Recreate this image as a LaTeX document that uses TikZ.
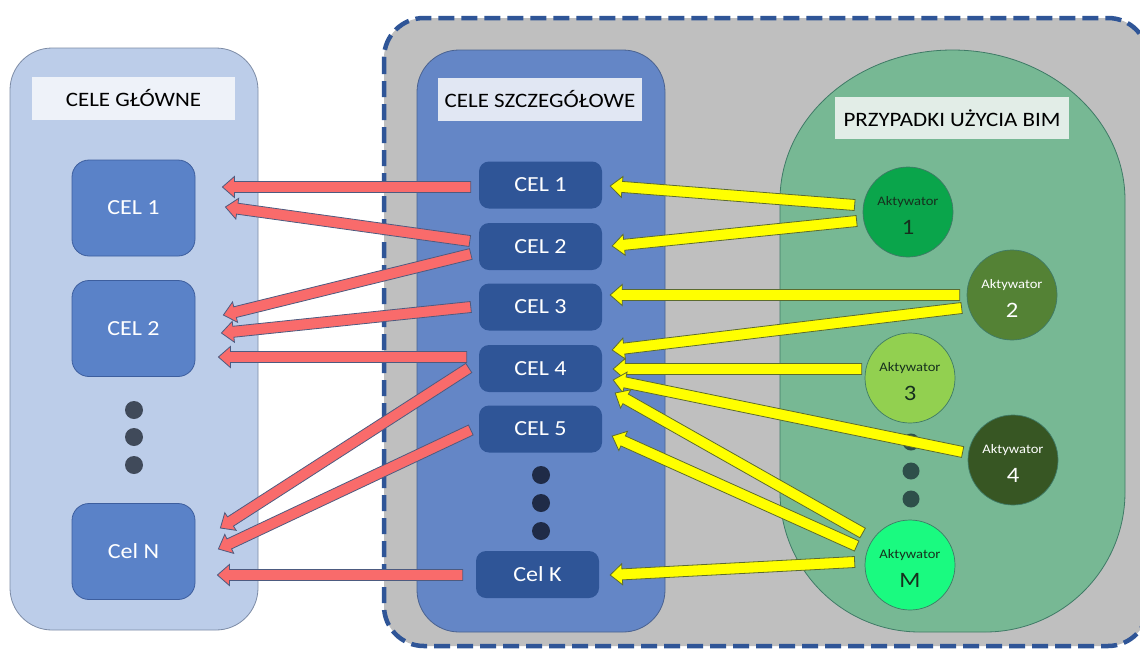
\documentclass[tikz,border=0pt]{standalone}
\usepackage{fontspec}
\setmainfont{Carlito}[FakeStretch=1.12]
\usetikzlibrary{calc}
\definecolor{lpanel}{HTML}{BCCDE9}
\definecolor{lpanelline}{HTML}{7D8CA6}
\definecolor{lbox}{HTML}{5A82C8}
\definecolor{lboxline}{HTML}{3D5E9E}
\definecolor{mpanel}{HTML}{6486C6}
\definecolor{mpanelline}{HTML}{4A6290}
\definecolor{mbox}{HTML}{2F5597}
\definecolor{framegray}{HTML}{BFBFBF}
\definecolor{dashblue}{HTML}{2F5597}
\definecolor{gpanel}{HTML}{77B894}
\definecolor{gpanelline}{HTML}{3F7A66}
\definecolor{redfill}{HTML}{F96B6B}
\definecolor{redline}{HTML}{4D5B80}
\definecolor{yelfill}{HTML}{FFFF00}
\definecolor{yelline}{HTML}{5C6B2E}
\definecolor{aone}{HTML}{0AA54B}
\definecolor{atwo}{HTML}{548235}
\definecolor{athree}{HTML}{92D050}
\definecolor{afour}{HTML}{375623}
\definecolor{am}{HTML}{1AFA80}
\definecolor{darktxt}{HTML}{16301E}
\newcommand{\blockarrow}[3]{%
  \coordinate (BAs) at (#1);
  \coordinate (BAe) at (#2);
  \coordinate (BAh) at ($(BAe)!12pt!(BAs)$);
  \filldraw[#3] ($(BAs)!5.5pt!90:(BAe)$) -- ($(BAh)!5.5pt!90:(BAe)$) -- ($(BAh)!10.5pt!90:(BAe)$) -- (BAe) -- ($(BAh)!10.5pt!-90:(BAe)$) -- ($(BAh)!5.5pt!-90:(BAe)$) -- ($(BAs)!5.5pt!-90:(BAe)$) -- cycle;
}
\begin{document}
\begin{tikzpicture}[x=1pt,y=-1pt,
  panelL/.style={draw=lpanelline,line width=0.8pt,fill=lpanel,rounded corners=42pt,minimum width=248pt,minimum height=582pt,inner sep=0pt},
  panelM/.style={draw=mpanelline,line width=0.8pt,fill=mpanel,rounded corners=42pt,minimum width=248pt,minimum height=582pt,inner sep=0pt},
  titlebox/.style={minimum height=43pt,inner sep=0pt,font=\fontsize{20.5pt}{24pt}\selectfont,text=black},
  lcel/.style={draw=lboxline,line width=0.8pt,fill=lbox,rounded corners=17pt,minimum width=123pt,minimum height=96pt,inner sep=0pt,text=white,font=\fontsize{21.5pt}{25pt}\selectfont},
  mcel/.style={fill=mbox,rounded corners=10pt,minimum width=123pt,minimum height=47pt,inner sep=0pt,text=white,font=\fontsize{21.5pt}{25pt}\selectfont},
  dot/.style={circle,inner sep=0pt,minimum size=18pt},
  act/.style={circle,draw=gpanelline,line width=0.7pt,minimum size=90pt,inner sep=0pt},
  actword/.style={inner sep=0pt,font=\fontsize{13pt}{15pt}\selectfont},
  actnum/.style={inner sep=0pt,font=\fontsize{22pt}{26pt}\selectfont},
  redarrow/.style={fill=redfill,draw=redline,line width=0.8pt,line join=miter},
  yelarrow/.style={fill=yelfill,draw=yelline,line width=0.8pt,line join=miter}
]
\useasboundingbox (0,0) rectangle (1140,649);
\clip (0,0) rectangle (1140,649);
\fill[white] (0,0) rectangle (1140,649);

% big dashed frame
\draw[fill=framegray,draw=dashblue,line width=4.5pt,dash pattern=on 16pt off 7pt,rounded corners=40pt] (384,18) rectangle (1148,646);

% left panel
\node[panelL] (pl) at (134,339) {};
\node[titlebox,fill={rgb,255:red,238;green,242;blue,249},minimum width=203pt] (tl) at (133.5,98.5) {CELE GŁÓWNE};
\node[lcel] (g1) at (133.5,208) {CEL 1};
\node[lcel] (g2) at (133.5,328.5) {CEL 2};
\node[lcel] (gN) at (133.5,551.5) {Cel N};
\foreach \yy [count=\i] in {410,437,465}
  \node[dot,fill={rgb,255:red,64;green,74;blue,90}] (ld\i) at (134,\yy) {};

% middle panel
\node[panelM] (pm) at (541,341) {};
\node[titlebox,fill={rgb,255:red,225;green,231;blue,243},minimum width=204pt] (tm) at (540,99.5) {CELE SZCZEGÓŁOWE};
\node[mcel] (s1) at (540.5,185) {CEL 1};
\node[mcel] (s2) at (540.5,246.5) {CEL 2};
\node[mcel] (s3) at (540.5,307) {CEL 3};
\node[mcel] (s4) at (540.5,368.5) {CEL 4};
\node[mcel] (s5) at (540.5,429) {CEL 5};
\node[mcel] (sK) at (537.5,574.5) {Cel K};
\foreach \yy [count=\i] in {475,503,531}
  \node[dot,fill={rgb,255:red,31;green,43;blue,71}] (md\i) at (541,\yy) {};

% green panel
\draw[fill=gpanel,draw=gpanelline,line width=0.8pt]
  (780,492) -- (780,200)
  .. controls (780,117.2) and (857.2,50) .. (952.5,50)
  .. controls (1047.8,50) and (1125,117.2) .. (1125,200)
  -- (1125,492)
  .. controls (1125,569.3) and (1062.3,632) .. (985,632)
  -- (920,632)
  .. controls (842.7,632) and (780,569.3) .. (780,492) -- cycle;
\node[titlebox,fill={rgb,255:red,226;green,237;blue,231},minimum width=234pt,minimum height=42pt] (tg) at (952,118) {PRZYPADKI UŻYCIA BIM};
\foreach \yy [count=\i] in {442,471,499}
  \node[dot,minimum size=17pt,fill={rgb,255:red,46;green,79;blue,74}] (gd\i) at (911,\yy) {};

% activators
\node[act,fill=aone] (a1) at (908,212) {};
\node[act,fill=atwo] (a2) at (1012,295) {};
\node[act,fill=athree] (a3) at (910,378) {};
\node[act,fill=afour] (a4) at (1013,460) {};
\node[act,fill=am] (aM) at (910,565) {};
\node[actword,text=darktxt] (a1w) at ($(a1)+(0,-10)$) {Aktywator};
\node[actnum,text=darktxt] (a1n) at ($(a1)+(0,15)$) {1};
\node[actword,text=white] (a2w) at ($(a2)+(0,-10)$) {Aktywator};
\node[actnum,text=white] (a2n) at ($(a2)+(0,15)$) {2};
\node[actword,text=darktxt] (a3w) at ($(a3)+(0,-10)$) {Aktywator};
\node[actnum,text=darktxt] (a3n) at ($(a3)+(0,15)$) {3};
\node[actword,text=white] (a4w) at ($(a4)+(0,-10)$) {Aktywator};
\node[actnum,text=white] (a4n) at ($(a4)+(0,15)$) {4};
\node[actword,text=darktxt] (aMw) at ($(aM)+(0,-10)$) {Aktywator};
\node[actnum,text=darktxt] (aMn) at ($(aM)+(0,15)$) {M};

% red arrows
\blockarrow{$(s1.west)+(-8,2)$}{$(g1.east)+(27,-21)$}{redarrow}
\blockarrow{$(s2.west)+(-9,-5.5)$}{$(g1.east)+(30,-1)$}{redarrow}
\blockarrow{$(s2.west)+(-8,7.5)$}{$(g2.east)+(28,-13.5)$}{redarrow}
\blockarrow{$(s3.west)+(-8,0)$}{$(g2.east)+(26,4.5)$}{redarrow}
\blockarrow{$(s4.west)+(-12,-11.5)$}{$(g2.east)+(23,28.5)$}{redarrow}
\blockarrow{$(s4.west)+(-10,-0.5)$}{$(gN.east)+(25,-23.5)$}{redarrow}
\blockarrow{$(s5.west)+(-8,1)$}{$(gN.east)+(23,-2.5)$}{redarrow}
\blockarrow{$(sK.west)+(-13,0.5)$}{$(gN.east)+(22,23.5)$}{redarrow}

% yellow arrows
\blockarrow{$(a1.west)+(-8,-7)$}{$(s1.east)+(8,1)$}{yelarrow}
\blockarrow{$(a1.west)+(-6,9)$}{$(s2.east)+(10,-0.5)$}{yelarrow}
\blockarrow{$(a2.west)+(-7,0)$}{$(s3.east)+(8,-12)$}{yelarrow}
\blockarrow{$(a2.west)+(-5,13)$}{$(s4.east)+(10,-18.5)$}{yelarrow}
\blockarrow{$(a3.west)+(-3,-9)$}{$(s4.east)+(11,0.5)$}{yelarrow}
\blockarrow{$(a4.west)+(-5,-8)$}{$(s4.east)+(11,11.5)$}{yelarrow}
\blockarrow{$(aM.west)+(-2,-32)$}{$(s4.east)+(13,24.5)$}{yelarrow}
\blockarrow{$(aM.west)+(-8,-19)$}{$(s5.east)+(10,7)$}{yelarrow}
\blockarrow{$(aM.west)+(-10,-3)$}{$(sK.east)+(11,0.5)$}{yelarrow}
\end{tikzpicture}
\end{document}
